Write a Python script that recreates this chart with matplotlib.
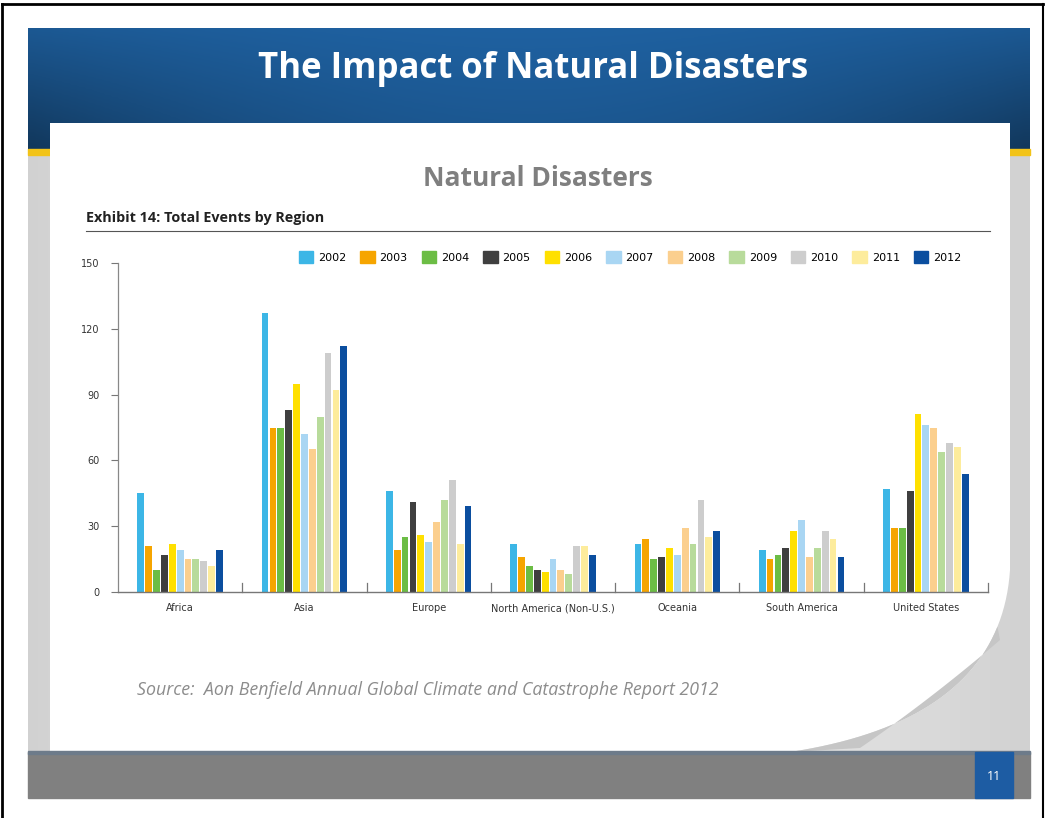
import numpy as np
import matplotlib
matplotlib.use("Agg")
import matplotlib.pyplot as plt
from matplotlib.patches import Rectangle, Polygon, Patch

# data
regions = ["Africa", "Asia", "Europe", "North America (Non-U.S.)", "Oceania",
           "South America", "United States"]
years = ["2002", "2003", "2004", "2005", "2006", "2007", "2008", "2009", "2010", "2011", "2012"]
africa = [45, 21, 10, 17, 22, 19, 15, 15, 14, 12, 19]
asia = [127, 75, 75, 83, 95, 72, 65, 80, 109, 92, 112]
europe = [46, 19, 25, 41, 26, 23, 32, 42, 51, 22, 39]
north_america = [22, 16, 12, 10, 9, 15, 10, 8, 21, 21, 17]
oceania = [22, 24, 15, 16, 20, 17, 29, 22, 42, 25, 28]
south_america = [19, 15, 17, 20, 28, 33, 16, 20, 28, 24, 16]
united_states = [47, 29, 29, 46, 81, 76, 75, 64, 68, 66, 54]
yticks = [0, 30, 60, 90, 120, 150]

colors = ["#3cb6e6", "#f6a500", "#6cbd45", "#3f3f3f", "#ffe000", "#a9d6f3",
          "#fbcf8e", "#b8db9b", "#cdcdcd", "#fdec9c", "#0b4e9f"]

values = np.array([africa, asia, europe, north_america, oceania,
                   south_america, united_states])

W, H = 1045, 818
fig = plt.figure(figsize=(W / 100, H / 100), dpi=100, facecolor="white")

# background in pixel coordinates
bg = fig.add_axes([0, 0, 1, 1])
bg.set_xlim(0, W)
bg.set_ylim(H, 0)
bg.axis("off")

# slide grey area
grey = np.tile(np.concatenate([np.linspace(0.82, 0.91, 30), np.full(40, 0.91),
                               np.linspace(0.91, 0.82, 30)]), (2, 1))
bg.imshow(grey, cmap="gray", vmin=0, vmax=1, extent=(28, 1030, 752, 150),
          aspect="auto", zorder=1)

# blue header gradient
yy = np.linspace(0, 1, 60)[:, None]
xx = np.linspace(-1, 1, 120)[None, :]
shade = 1 - 0.12 * yy - 0.22 * (xx ** 2) * (0.4 + yy)
top = np.array([0.12, 0.38, 0.63])
hdr = np.clip(shade[..., None] * top[None, None, :], 0, 1)
bg.imshow(hdr, extent=(28, 1030, 150, 28), aspect="auto", zorder=2)
bg.add_patch(Rectangle((28, 149), 1002, 6, color="#f2c318", zorder=3))

# white paper with curled corner
t = np.linspace(0, 1, 40)
p0, p1, p2 = np.array([1010, 570]), np.array([1000, 720]), np.array([790, 752])
curve = ((1 - t) ** 2)[:, None] * p0 + (2 * (1 - t) * t)[:, None] * p1 + (t ** 2)[:, None] * p2
paper = np.vstack([[[50, 123], [1010, 123]], curve, [[50, 752]]])
bg.add_patch(Polygon(paper, closed=True, facecolor="white", edgecolor="none", zorder=4))
q0, q1, q2 = np.array([1000, 640]), np.array([930, 700]), np.array([860, 748])
flap_in = ((1 - t) ** 2)[:, None] * q0 + (2 * (1 - t) * t)[:, None] * q1 + (t ** 2)[:, None] * q2
bg.add_patch(Polygon(np.vstack([curve[8:], flap_in[::-1]]), closed=True,
                     facecolor="#c6c6c6", edgecolor="none", zorder=5))

# footer
bg.add_patch(Rectangle((28, 752), 1002, 46, color="#808080", zorder=6))
bg.add_patch(Rectangle((28, 751), 1002, 3, color="#6d7b8a", zorder=6))
bg.add_patch(Rectangle((975, 752), 38, 46, color="#1d5ca3", zorder=7))
bg.text(994, 776, "11", color="white", fontsize=9, ha="center", va="center",
        family="Open Sans", zorder=8)

# outer frame
bg.plot([2, 2], [4, H], color="black", lw=2, zorder=9)
bg.plot([2, 1043], [4, 4], color="black", lw=2, zorder=9)
bg.plot([1043, 1043], [4, H], color="black", lw=1.5, zorder=9)

# texts
bg.text(533, 69, "The Impact of Natural Disasters", color="white", fontsize=25,
        fontweight="bold", ha="center", va="center", family="Open Sans", zorder=8)
bg.text(538, 178, "Natural Disasters", color="#7f7f7f", fontsize=19,
        fontweight="bold", ha="center", va="center", family="Open Sans", zorder=8)
bg.text(86, 218, "Exhibit 14: Total Events by Region", color="#222222", fontsize=10.4,
        fontweight="bold", ha="left", va="center", family="Open Sans", zorder=8)
bg.plot([86, 990], [231, 231], color="#555555", lw=0.8, zorder=8)
bg.text(137, 690, "Source:  Aon Benfield Annual Global Climate and Catastrophe Report 2012",
        color="#8c8c8c", fontsize=12.8, style="italic", ha="left", va="center",
        family="Open Sans", zorder=8)

# chart
ax = fig.add_axes([118 / W, 1 - 592 / H, 870 / W, 329 / H])
ax.patch.set_alpha(0)
ax.set_zorder(10)
n = len(years)
pitch = 0.0633
x = np.arange(len(regions))
for j, yr in enumerate(years):
    ax.bar(x + (j - (n - 1) / 2) * pitch, values[:, j], width=pitch * 0.86,
           color=colors[j], label=yr)
ax.set_xlim(-0.5, 6.5)
ax.set_ylim(0, 150)
ax.set_yticks(yticks)
ax.set_xticks(x)
ax.set_xticklabels(regions)
ax.tick_params(axis="x", length=0, pad=8, labelsize=7, labelcolor="#333333")
ax.tick_params(axis="y", length=5, width=0.8, color="#777777", pad=8,
               labelsize=7, labelcolor="#333333")
for s in ["top", "right"]:
    ax.spines[s].set_visible(False)
ax.spines["left"].set_color("#888888")
ax.spines["bottom"].set_color("#777777")
ax.spines["left"].set_linewidth(0.9)
ax.spines["bottom"].set_linewidth(1.0)
for b in x + 0.5:
    ax.plot([b, b], [0, 4], color="#777777", lw=0.9, clip_on=False)

handles = [Patch(color=c) for c in colors]
fig.legend(handles, years, loc="center", bbox_to_anchor=(630 / W, 1 - 257 / H),
           ncol=11, frameon=False, fontsize=8, handlelength=1.3, handleheight=1.2,
           handletextpad=0.45, columnspacing=1.25)

fig.savefig("out.png", dpi=100, facecolor="white")
